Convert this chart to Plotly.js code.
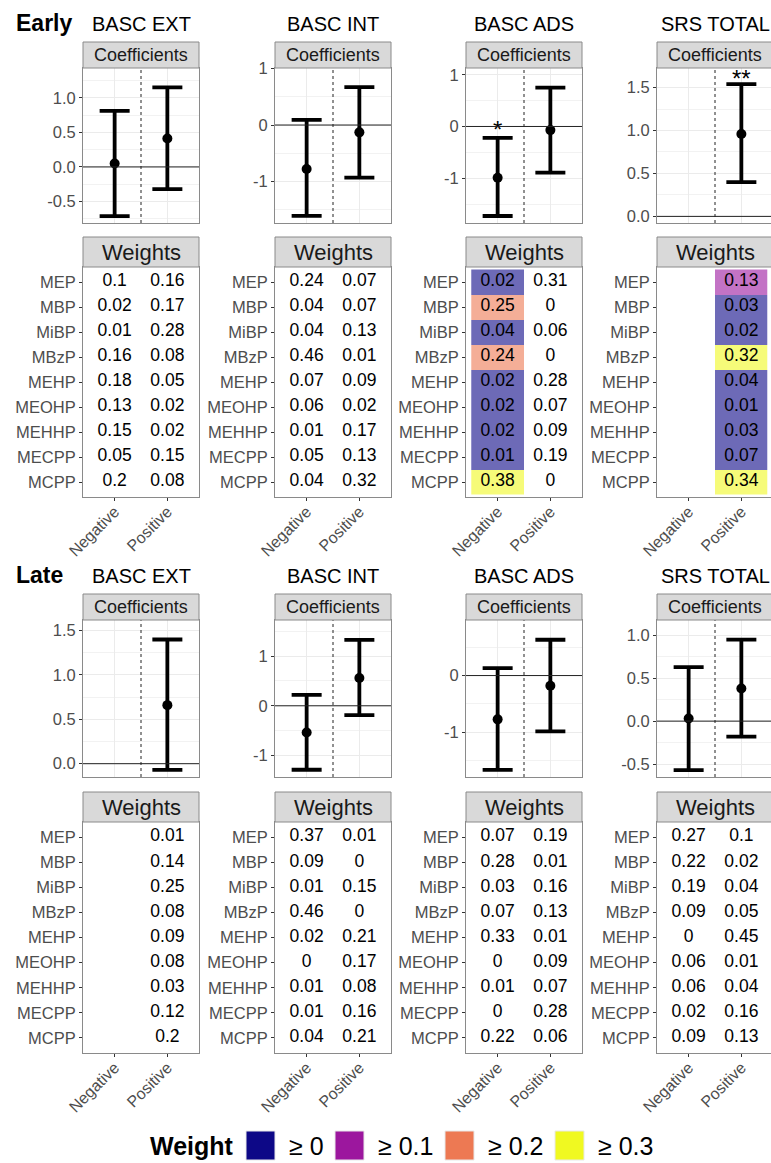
<!DOCTYPE html>
<html><head><meta charset="utf-8">
<script src="https://cdn.plot.ly/plotly-3.0.1.min.js"></script>
<style>html,body{margin:0;padding:0;overflow:hidden;background:#fff}#chart{width:775px;height:1163px}</style>
</head><body><div id="chart"></div>
<script>
// ---------------- DATA ----------------
const periods = ['Early', 'Late'];
const outcomes = ['BASC EXT', 'BASC INT', 'BASC ADS', 'SRS TOTAL'];
const groups = ['Negative', 'Positive'];
const chemicals = ['MEP', 'MBP', 'MiBP', 'MBzP', 'MEHP', 'MEOHP', 'MEHHP', 'MECPP', 'MCPP'];

// Coefficients (order follows outcomes)
const earlyEstNeg  = [0.05, -0.78, -0.99, null];
const earlyLowNeg  = [-0.71, -1.61, -1.73, null];
const earlyHighNeg = [0.81, 0.09, -0.22, null];
const earlyEstPos  = [0.41, -0.13, -0.07, 0.96];
const earlyLowPos  = [-0.32, -0.93, -0.89, 0.40];
const earlyHighPos = [1.15, 0.67, 0.75, 1.54];

const lateEstNeg  = [null, -0.54, -0.77, 0.03];
const lateLowNeg  = [null, -1.29, -1.66, -0.57];
const lateHighNeg = [null, 0.22, 0.13, 0.63];
const lateEstPos  = [0.66, 0.56, -0.18, 0.38];
const lateLowPos  = [-0.07, -0.19, -0.98, -0.18];
const lateHighPos = [1.40, 1.33, 0.63, 0.95];

// Significance labels and where they sit (coefficient units)
const earlyStarNeg  = ['', '', '*', ''];
const earlyStarYNeg = [null, null, -0.11, null];
const earlyStarPos  = ['', '', '', '**'];
const earlyStarYPos = [null, null, null, 1.58];
const lateStarNeg   = ['', '', '', ''];
const lateStarYNeg  = [null, null, null, null];
const lateStarPos   = ['', '', '', ''];
const lateStarYPos  = [null, null, null, null];

// Weights (order follows chemicals)
const wEarlyExtNeg = [0.1, 0.02, 0.01, 0.16, 0.18, 0.13, 0.15, 0.05, 0.2];
const wEarlyExtPos = [0.16, 0.17, 0.28, 0.08, 0.05, 0.02, 0.02, 0.15, 0.08];
const wEarlyIntNeg = [0.24, 0.04, 0.04, 0.46, 0.07, 0.06, 0.01, 0.05, 0.04];
const wEarlyIntPos = [0.07, 0.07, 0.13, 0.01, 0.09, 0.02, 0.17, 0.13, 0.32];
const wEarlyAdsNeg = [0.02, 0.25, 0.04, 0.24, 0.02, 0.02, 0.02, 0.01, 0.38];
const wEarlyAdsPos = [0.31, 0, 0.06, 0, 0.28, 0.07, 0.09, 0.19, 0];
const wEarlySrsNeg = null;
const wEarlySrsPos = [0.13, 0.03, 0.02, 0.32, 0.04, 0.01, 0.03, 0.07, 0.34];

const wLateExtNeg = null;
const wLateExtPos = [0.01, 0.14, 0.25, 0.08, 0.09, 0.08, 0.03, 0.12, 0.2];
const wLateIntNeg = [0.37, 0.09, 0.01, 0.46, 0.02, 0, 0.01, 0.01, 0.04];
const wLateIntPos = [0.01, 0, 0.15, 0, 0.21, 0.17, 0.08, 0.16, 0.21];
const wLateAdsNeg = [0.07, 0.28, 0.03, 0.07, 0.33, 0, 0.01, 0, 0.22];
const wLateAdsPos = [0.19, 0.01, 0.16, 0.13, 0.01, 0.09, 0.07, 0.28, 0.06];
const wLateSrsNeg = [0.27, 0.22, 0.19, 0.09, 0, 0.06, 0.06, 0.02, 0.09];
const wLateSrsPos = [0.1, 0.02, 0.04, 0.05, 0.45, 0.01, 0.04, 0.16, 0.13];

// Which column is shaded (significant index)
const earlyHighlight = ['', '', 'Negative', 'Positive'];
const lateHighlight  = ['', '', '', ''];

// Y tick labels of coefficient panels
const earlyTickVals = [[-0.5, 0, 0.5, 1], [-1, 0, 1], [-1, 0, 1], [0, 0.5, 1, 1.5]];
const earlyTickText = [['-0.5', '0.0', '0.5', '1.0'], ['-1', '0', '1'], ['-1', '0', '1'], ['0.0', '0.5', '1.0', '1.5']];
const lateTickVals = [[0, 0.5, 1, 1.5], [-1, 0, 1], [-1, 0], [-0.5, 0, 0.5, 1]];
const lateTickText = [['0.0', '0.5', '1.0', '1.5'], ['-1', '0', '1'], ['-1', '0'], ['-0.5', '0.0', '0.5', '1.0']];

// Legend
const legendTitle = 'Weight';
const legendLabels = ['\u2265 0', '\u2265 0.1', '\u2265 0.2', '\u2265 0.3'];
const legendBreaks = [0, 0.1, 0.2, 0.3];
const legendColors = ['#0D0887', '#9C179E', '#ED7953', '#F0F921'];

// ---------------- ASSEMBLY ----------------
const coef = [
  {estNeg: earlyEstNeg, lowNeg: earlyLowNeg, highNeg: earlyHighNeg, estPos: earlyEstPos, lowPos: earlyLowPos, highPos: earlyHighPos,
   starNeg: earlyStarNeg, starYNeg: earlyStarYNeg, starPos: earlyStarPos, starYPos: earlyStarYPos, tv: earlyTickVals, tt: earlyTickText, hl: earlyHighlight},
  {estNeg: lateEstNeg, lowNeg: lateLowNeg, highNeg: lateHighNeg, estPos: lateEstPos, lowPos: lateLowPos, highPos: lateHighPos,
   starNeg: lateStarNeg, starYNeg: lateStarYNeg, starPos: lateStarPos, starYPos: lateStarYPos, tv: lateTickVals, tt: lateTickText, hl: lateHighlight}
];
const weights = [
  [[wEarlyExtNeg, wEarlyExtPos], [wEarlyIntNeg, wEarlyIntPos], [wEarlyAdsNeg, wEarlyAdsPos], [wEarlySrsNeg, wEarlySrsPos]],
  [[wLateExtNeg, wLateExtPos], [wLateIntNeg, wLateIntPos], [wLateAdsNeg, wLateAdsPos], [wLateSrsNeg, wLateSrsPos]]
];

// ---------------- GEOMETRY / STYLE ----------------
const W = 775, H = 1163;
const FONT = 'Liberation Sans, Arial, Helvetica, sans-serif';
const panelLeft = [83, 275, 466, 657];
const panelW = 116;
const rowGeom = [
  {title: 24, coefStrip: [42, 68], coef: [68, 223], wStrip: [237, 267], w: [267, 497]},
  {title: 576, coefStrip: [594, 620], coef: [620, 777], wStrip: [792, 822], w: [822, 1053]}
];
const coefRanges = [
  [[-0.81, 1.43], [-1.735, 1.01], [-1.865, 1.13], [-0.077, 1.728]],
  [[-0.15, 1.62], [-1.436, 1.73], [-1.784, 0.977], [-0.651, 1.178]]
];
const xp = px => px / W;
const yp = px => 1 - px / H;
const BORDER = '#8a8a8a';
const GRID = '#EBEBEB';
const TICKC = '#4D4D4D';

const traces = [], shapes = [], annotations = [];
const layout = {
  width: W, height: H, margin: {l: 0, r: 0, t: 0, b: 0},
  paper_bgcolor: '#fff', plot_bgcolor: '#fff', showlegend: false,
  font: {family: FONT, color: '#000'}
};

function axName(i) { return i === 1 ? '' : String(i); }

function colorscale() {
  const cs = [];
  const zmax = 0.4;
  for (let k = 0; k < legendColors.length; k++) {
    const a = legendBreaks[k] / zmax;
    const b = (k + 1 < legendBreaks.length ? legendBreaks[k + 1] : zmax) / zmax;
    cs.push([a, legendColors[k]]);
    cs.push([b, legendColors[k]]);
  }
  return cs;
}

function stripShape(x0, x1, y0, y1) {
  shapes.push({type: 'rect', xref: 'paper', yref: 'paper', x0: xp(x0), x1: xp(x1), y0: yp(y1), y1: yp(y0),
    fillcolor: '#D9D9D9', line: {color: BORDER, width: 1}, layer: 'above'});
}

for (let r = 0; r < 2; r++) {
  const g = rowGeom[r];
  const C = coef[r];
  annotations.push({text: '<b>' + periods[r] + '</b>', xref: 'paper', yref: 'paper', x: xp(14), y: yp(g.title - 1),
    xanchor: 'left', yanchor: 'middle', showarrow: false, font: {size: 23, family: FONT, color: '#000'}});
  for (let c = 0; c < 4; c++) {
    const iC = r * 8 + c * 2 + 1, iW = iC + 1;
    const xC = 'x' + axName(iC), yC = 'y' + axName(iC);
    const xW = 'x' + axName(iW), yW = 'y' + axName(iW);
    const x0 = panelLeft[c], x1 = panelLeft[c] + panelW;

    // title
    annotations.push({text: outcomes[c], xref: 'paper', yref: 'paper', x: xp((x0 + x1) / 2), y: yp(g.title),
      xanchor: 'center', yanchor: 'middle', showarrow: false, font: {size: 20, family: FONT, color: '#000'}});

    // coefficient axes
    const rng = coefRanges[r][c];
    const tv = C.tv[c];
    const step = tv[1] - tv[0];
    const minorVals = [];
    for (let v = tv[0] - step / 2; v <= rng[1]; v += step) if (v >= rng[0]) minorVals.push(+v.toFixed(4));
    layout['xaxis' + axName(iC)] = {domain: [xp(x0), xp(x1)], anchor: yC, type: 'category',
      categoryorder: 'array', categoryarray: groups, range: [-0.6, 1.6], showgrid: true, gridcolor: GRID, gridwidth: 1,
      showticklabels: false, ticks: '', zeroline: false, showline: true, mirror: true, linecolor: BORDER, linewidth: 1, fixedrange: true};
    layout['yaxis' + axName(iC)] = {domain: [yp(g.coef[1]), yp(g.coef[0])], anchor: xC, range: rng,
      tickmode: 'array', tickvals: tv, ticktext: C.tt[c], ticks: 'outside', ticklen: 3, tickcolor: '#333', tickwidth: 1,
      tickfont: {size: 16.5, color: TICKC, family: FONT}, showgrid: true, gridcolor: GRID, gridwidth: 1,
      minor: {tickmode: 'array', tickvals: minorVals, showgrid: true, gridcolor: '#F2F2F2', gridwidth: 1, ticks: ''},
      zeroline: false, showline: true, mirror: true, linecolor: BORDER, linewidth: 1, fixedrange: true};

    // points + CI
    const px = [], py = [], up = [], dn = [], sx = [], sy = [], st = [];
    const est = [C.estNeg[c], C.estPos[c]], lo = [C.lowNeg[c], C.lowPos[c]], hi = [C.highNeg[c], C.highPos[c]];
    const stars = [C.starNeg[c], C.starPos[c]], starY = [C.starYNeg[c], C.starYPos[c]];
    for (let k = 0; k < 2; k++) {
      if (est[k] === null) continue;
      px.push(groups[k]); py.push(est[k]); up.push(hi[k] - est[k]); dn.push(est[k] - lo[k]);
      if (stars[k]) { sx.push(groups[k]); sy.push(starY[k]); st.push(stars[k]); }
    }
    traces.push({type: 'scatter', mode: 'markers', x: px, y: py, xaxis: xC, yaxis: yC,
      marker: {color: '#000', size: 10},
      error_y: {type: 'data', symmetric: false, array: up, arrayminus: dn, color: '#000', thickness: 3.8, width: 15},
      hoverinfo: 'skip', cliponaxis: false});
    if (st.length) traces.push({type: 'scatter', mode: 'text', x: sx, y: sy, text: st, xaxis: xC, yaxis: yC,
      textposition: 'middle center', textfont: {size: 24, color: '#000', family: FONT}, hoverinfo: 'skip', cliponaxis: false});

    // reference lines
    shapes.push({type: 'line', xref: xC + ' domain', yref: yC, x0: 0, x1: 1, y0: 0, y1: 0, line: {color: '#222', width: 1}, layer: 'above'});
    shapes.push({type: 'line', xref: xC, yref: yC + ' domain', x0: 0.5, x1: 0.5, y0: 0, y1: 1, line: {color: '#222', width: 1, dash: '3px,3px'}, layer: 'above'});

    // coefficient strip
    stripShape(x0, x1, g.coefStrip[0], g.coefStrip[1]);
    annotations.push({text: 'Coefficients', xref: 'paper', yref: 'paper', x: xp((x0 + x1) / 2), y: yp((g.coefStrip[0] + g.coefStrip[1]) / 2),
      xanchor: 'center', yanchor: 'middle', showarrow: false, font: {size: 18, family: FONT, color: '#1A1A1A'}});

    // weights axes
    layout['xaxis' + axName(iW)] = {domain: [xp(x0), xp(x1)], anchor: yW, type: 'category',
      categoryorder: 'array', categoryarray: groups, range: [-0.6, 1.6], showgrid: false,
      ticks: 'outside', ticklen: 3, tickcolor: '#333', tickwidth: 1, tickangle: -45, ticklabelstandoff: -5,
      tickfont: {size: 16, color: TICKC, family: FONT}, zeroline: false, showline: true, mirror: true, linecolor: BORDER, linewidth: 1, fixedrange: true};
    layout['yaxis' + axName(iW)] = {domain: [yp(g.w[1]), yp(g.w[0])], anchor: xW, type: 'category',
      categoryorder: 'array', categoryarray: chemicals, range: [8.6, -0.6], showgrid: false,
      ticks: 'outside', ticklen: 3, tickcolor: '#333', tickwidth: 1,
      tickfont: {size: 16.5, color: TICKC, family: FONT}, zeroline: false, showline: true, mirror: true, linecolor: BORDER, linewidth: 1, fixedrange: true};

    const wpair = weights[r][c];
    // shaded cells
    const hl = C.hl[c];
    if (hl) {
      const k = groups.indexOf(hl);
      const z = chemicals.map((_, i) => groups.map((_, j) => (j === k && wpair[j]) ? wpair[j][i] : null));
      traces.push({type: 'heatmap', x: groups, y: chemicals, z: z, xaxis: xW, yaxis: yW,
        zmin: 0, zmax: 0.4, colorscale: colorscale(), showscale: false, opacity: 0.6, hoverinfo: 'skip', xgap: 0, ygap: 0});
    }
    // text
    const tx = [], ty = [], tt = [];
    for (let j = 0; j < 2; j++) {
      if (!wpair[j]) continue;
      wpair[j].forEach((v, i) => { tx.push(groups[j]); ty.push(chemicals[i]); tt.push(String(v)); });
    }
    traces.push({type: 'scatter', mode: 'text', x: tx, y: ty, text: tt, xaxis: xW, yaxis: yW,
      textposition: 'middle center', textfont: {size: 17.5, color: '#000', family: FONT}, hoverinfo: 'skip', cliponaxis: false});

    // weights strip
    stripShape(x0, x1, g.wStrip[0], g.wStrip[1]);
    annotations.push({text: 'Weights', xref: 'paper', yref: 'paper', x: xp((x0 + x1) / 2), y: yp((g.wStrip[0] + g.wStrip[1]) / 2),
      xanchor: 'center', yanchor: 'middle', showarrow: false, font: {size: 22, family: FONT, color: '#1A1A1A'}});
  }
}

// ---------------- LEGEND ----------------
const legBoxX = [246, 335, 445, 555];
const legBox = 29, legY0 = 1131;
annotations.push({text: '<b>' + legendTitle + '</b>', xref: 'paper', yref: 'paper', x: xp(236), y: yp(legY0 + legBox / 2),
  xanchor: 'right', yanchor: 'middle', showarrow: false, font: {size: 25, family: FONT, color: '#000'}});
legendLabels.forEach((lab, k) => {
  shapes.push({type: 'rect', xref: 'paper', yref: 'paper', x0: xp(legBoxX[k]), x1: xp(legBoxX[k] + legBox),
    y0: yp(legY0 + legBox), y1: yp(legY0), fillcolor: legendColors[k], line: {color: '#e8e8e8', width: 1}});
  annotations.push({text: lab, xref: 'paper', yref: 'paper', x: xp(legBoxX[k] + legBox + 12), y: yp(legY0 + legBox / 2),
    xanchor: 'left', yanchor: 'middle', showarrow: false, font: {size: 25, family: FONT, color: '#000'}});
});

layout.shapes = shapes;
layout.annotations = annotations;
Plotly.newPlot('chart', traces, layout, {staticPlot: true, displayModeBar: false});
</script>
</body></html>
